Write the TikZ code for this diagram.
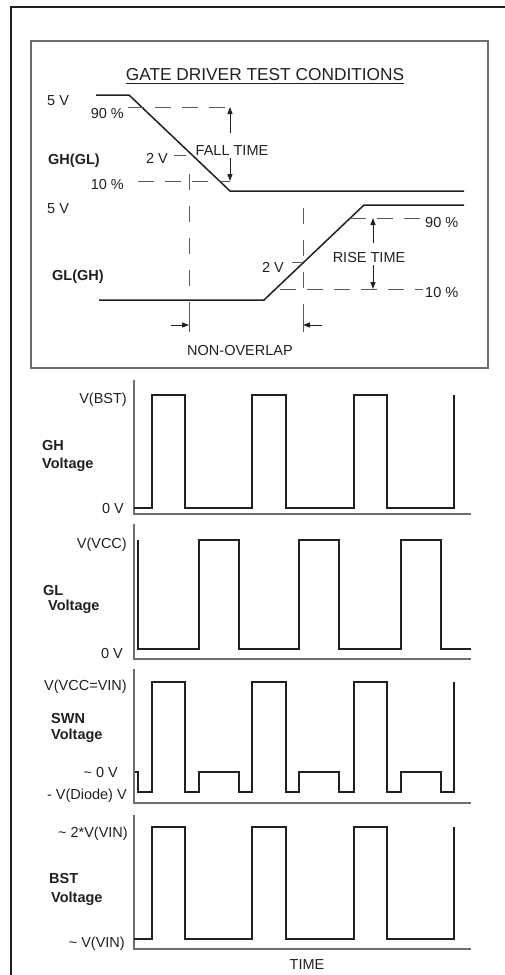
\documentclass[tikz,border=0pt]{standalone}
\usepackage{fontspec}
\setmainfont{Liberation Sans}
\usepackage{tikz}
\usetikzlibrary{arrows.meta}
\definecolor{WaveBlack}{HTML}{231F20}
\definecolor{FrameGray}{HTML}{6D6E71}
\definecolor{GuideGray}{HTML}{58595B}
\tikzset{
  framerule/.style={draw=WaveBlack,line width=1.2pt},
  boxrule/.style={draw=FrameGray,line width=1.6pt},
  wave/.style={draw=WaveBlack,line width=1.5pt,line join=miter},
  axisline/.style={draw=FrameGray,line width=1.2pt},
  guide/.style={draw=GuideGray,line width=0.9pt,dash pattern=on 16pt off 11pt},
  vguide/.style={draw=GuideGray,line width=0.9pt,dash pattern=on 16pt off 16pt},
  tick/.style={draw=GuideGray,line width=0.9pt},
  dimarrow/.style={draw=WaveBlack,line width=0.9pt,-{Triangle[length=7pt,width=5pt]}},
  lbl/.style={inner sep=0pt,font=\fontsize{14.5}{16}\selectfont,text=WaveBlack},
  blbl/.style={inner sep=0pt,font=\fontsize{14.5}{16}\selectfont\bfseries,text=WaveBlack},
  ttl/.style={inner sep=0pt,font=\fontsize{17.3}{19}\selectfont,text=WaveBlack},
}
\begin{document}
\begin{tikzpicture}[x=1pt,y=-1pt]
  \useasboundingbox (0,0) rectangle (505,975);
  \draw[framerule] (11,975) -- (11,7) -- (505,7);
  \draw[boxrule] (31,41) rectangle (488,368);

  \node[ttl,anchor=base] (title) at (265,80) {GATE DRIVER TEST CONDITIONS};
  \draw[draw=WaveBlack,line width=0.9pt] ([yshift=-3.5pt]title.base west) -- ([yshift=-3.5pt]title.base east);

  \draw[wave] (96,95) -- (129,95) -- (230,191) -- (464,191);
  \draw[wave] (99,300) -- (264,300) -- (364,205) -- (464,205);

  \node[lbl,anchor=base west] (fivea) at (47,105) {5 V};
  \node[lbl,anchor=base east] (ninetya) at (124,118) {90 \%};
  \node[blbl,anchor=base west] (ghgl) at (48,164) {GH(GL)};
  \node[lbl,anchor=base east] (twova) at (168,163) {2 V};
  \node[lbl,anchor=base east] (tena) at (124,189) {10 \%};
  \node[lbl,anchor=base] (falltxt) at (232,155) {FALL TIME};
  \node[lbl,anchor=base west] (fiveb) at (47,213) {5 V};
  \node[blbl,anchor=base west] (glgh) at (52,280) {GL(GH)};
  \node[lbl,anchor=base east] (twovb) at (284,272) {2 V};
  \node[lbl,anchor=base] (risetxt) at (369,262) {RISE TIME};
  \node[lbl,anchor=base west] (ninetyb) at (425,227) {90 \%};
  \node[lbl,anchor=base west] (tenb) at (425,297) {10 \%};
  \node[lbl,anchor=base] (nonoverlap) at (240,355) {NON-OVERLAP};

  \draw[guide] (128,107) -- (230,107);
  \draw[guide] (138,181) -- (230,181);
  \draw[tick] (174,155) -- (186,155);
  \draw[vguide] (189,174) -- (189,300);
  \draw[tick] (189,302) -- (189,332);
  \draw[guide] (350,218) -- (423,218);
  \draw[guide] (280,289) -- (423,289);
  \draw[tick] (292,262) -- (303,262);
  \draw[vguide] (303,208) -- (303,300);
  \draw[tick] (303,304) -- (303,332);

  \coordinate (fallhi) at (230,107);
  \coordinate (falllo) at (230,181);
  \coordinate (riselo) at (373,289);
  \coordinate (risehi) at (373,218);
  \coordinate (gapl) at (189,325);
  \coordinate (gapr) at (303,325);
  \draw[dimarrow] (230,133) -- (fallhi);
  \draw[dimarrow] (230,158) -- (falllo);
  \draw[dimarrow] (373,243) -- (risehi);
  \draw[dimarrow] (373,265) -- (riselo);
  \draw[dimarrow] (171,325) -- (gapl);
  \draw[dimarrow] (322,325) -- (gapr);

  \draw[axisline] (134,380) -- (134,514) -- (471,514);
  \draw[wave] (134,508) -- (152,508) -- (152,395) -- (185,395) -- (185,508) -- (252,508) -- (252,395) -- (286,395)
    -- (286,508) -- (354,508) -- (354,395) -- (387,395) -- (387,508) -- (454,508) -- (454,395);
  \node[lbl,anchor=base east] (ghtop) at (127,403) {V(BST)};
  \node[lbl,anchor=base east] (ghbot) at (124,513) {0 V};
  \node[blbl,anchor=base west] (ghname) at (42,450) {GH};
  \node[blbl,anchor=base west] (ghvolt) at (42,468) {Voltage};

  \draw[axisline] (134,524) -- (134,659) -- (471,659);
  \draw[wave] (138,540) -- (138,649) -- (199,649) -- (199,540) -- (239,540) -- (239,649) -- (299,649) -- (299,540)
    -- (339,540) -- (339,649) -- (401,649) -- (401,540) -- (441,540) -- (441,649) -- (471,649);
  \node[lbl,anchor=base east] (gltop) at (127,548) {V(VCC)};
  \node[lbl,anchor=base east] (glbot) at (123,658) {0 V};
  \node[blbl,anchor=base west] (glname) at (43,595) {GL};
  \node[blbl,anchor=base west] (glvolt) at (48,610) {Voltage};

  \draw[axisline] (134,669) -- (134,803) -- (471,803);
  \draw[wave] (135,772) -- (138,772) -- (138,792) -- (152,792) -- (152,682) -- (185,682) -- (185,792) -- (199,792)
    -- (199,772) -- (239,772) -- (239,792) -- (252,792) -- (252,682) -- (286,682) -- (286,792) -- (299,792)
    -- (299,772) -- (339,772) -- (339,792) -- (354,792) -- (354,682) -- (387,682) -- (387,792) -- (401,792)
    -- (401,772) -- (441,772) -- (441,792) -- (454,792) -- (454,682);
  \node[lbl,anchor=base east] (swntop) at (127,690) {V(VCC=VIN)};
  \node[lbl,anchor=base east] (swnzero) at (118,777) {\textasciitilde{} 0 V};
  \node[lbl,anchor=base east] (swnbot) at (127,799) {- V(Diode) V};
  \node[blbl,anchor=base west] (swnname) at (51,723) {SWN};
  \node[blbl,anchor=base west] (swnvolt) at (51,739) {Voltage};

  \draw[axisline] (134,815) -- (134,949) -- (471,949);
  \draw[wave] (134,939) -- (152,939) -- (152,827) -- (185,827) -- (185,939) -- (252,939) -- (252,827) -- (286,827)
    -- (286,939) -- (354,939) -- (354,827) -- (387,827) -- (387,939) -- (454,939) -- (454,827);
  \node[lbl,anchor=base east] (bsttop) at (128,837) {\textasciitilde{} 2*V(VIN)};
  \node[lbl,anchor=base east] (bstbot) at (125,947) {\textasciitilde{} V(VIN)};
  \node[blbl,anchor=base west] (bstname) at (49,883) {BST};
  \node[blbl,anchor=base west] (bstvolt) at (51,902) {Voltage};

  \node[lbl,anchor=base] (timetxt) at (307,969) {TIME};
\end{tikzpicture}
\end{document}
